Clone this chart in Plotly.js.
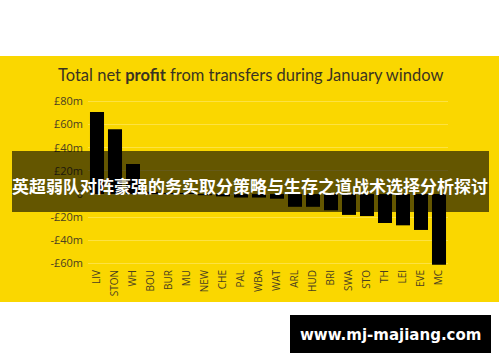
<!DOCTYPE html>
<html>
<head>
<meta charset="utf-8">
<script src="https://cdn.plot.ly/plotly-3.0.1.min.js"></script>
<style>html,body{margin:0;padding:0;background:#fff;}#chart{width:500px;height:362px;}</style>
</head>
<body>
<div id="chart"></div>
<script>
const clubs = ["LIV","STON","WH","BOU","BUR","MU","NEW","CHE","PAL","WBA","WAT","ARL","HUD","BRI","SWA","STO","TH","LEI","EVE","MC"];
const netProfit = [71, 56, 26, 2, 1, 1, -1, -2, -3, -3, -4, -11, -11, -14, -18, -19, -25, -27, -31, -61];
const yTickVals = [80, 60, 40, 20, 0, -20, -40, -60];
const yTickText = ["£80m","£60m","£40m","£20m","0","-£20m","-£40m","-£60m"];
const chartTitle = "Total net <b>profit</b> from transfers during January window";
const bannerText = "英超弱队对阵豪强的务实取分策略与生存之道战术选择分析探讨";
const watermark = "www.mj-majiang.com";

const W = 500, H = 362, mL = 88, mR = 52, mT = 98, mB = 95;
const pw = W - mL - mR, ph = H - mT - mB;
const px = x => (x - mL) / pw;
const py = y => (H - mB - y) / ph;

const shapes = [
  {type:'rect', xref:'paper', yref:'paper', layer:'below', x0:px(0), x1:px(499), y0:py(302), y1:py(56), fillcolor:'#fad700', line:{width:0}},
  {type:'rect', xref:'paper', yref:'paper', layer:'above', x0:px(12), x1:px(489), y0:py(212), y1:py(151), fillcolor:'rgba(0,0,0,0.6)', line:{width:0}},
  {type:'rect', xref:'paper', yref:'paper', layer:'above', x0:px(290), x1:px(491), y0:py(353), y1:py(315), fillcolor:'#000000', line:{width:0}}
];

const annotations = [
  {xref:'paper', yref:'paper', x:px(250), y:py(185), text:'<b>'+bannerText+'</b>', showarrow:false, xanchor:'center', yanchor:'middle',
   font:{family:'"Noto Sans CJK SC", sans-serif', size:17, color:'#ffffff'}},
  {xref:'paper', yref:'paper', x:px(390), y:py(335), text:'<b>'+watermark+'</b>', showarrow:false, xanchor:'center', yanchor:'middle',
   font:{family:'"DejaVu Sans", sans-serif', size:15, color:'#ffffff'}}
];

const trace = {type:'bar', x:clubs, y:netProfit, marker:{color:'#000000', line:{width:0}}, hoverinfo:'skip'};

const layout = {
  width:W, height:H,
  margin:{l:mL, r:mR, t:mT, b:mB, pad:0},
  paper_bgcolor:'#ffffff', plot_bgcolor:'rgba(0,0,0,0)',
  showlegend:false, bargap:0.22,
  title:{text:chartTitle, xref:'container', yref:'container', x:58/W, xanchor:'left', y:1-75/H, yanchor:'middle',
    font:{family:'Lato, sans-serif', size:16.5, color:'#3a3420'}},
  xaxis:{type:'category', tickangle:-90, showgrid:false, zeroline:false, showline:false, ticks:'',
    tickfont:{family:'"Open Sans", sans-serif', size:10, color:'#4a4020'}, fixedrange:true},
  yaxis:{range:[-63, 83], tickvals:yTickVals, ticktext:yTickText, showgrid:true, gridcolor:'rgba(255,235,120,0.55)', gridwidth:1,
    zeroline:false, showline:false, ticks:'', ticklabelstandoff:4,
    tickfont:{family:'"Open Sans", sans-serif', size:11, color:'#4a4020'}, fixedrange:true},
  shapes:shapes, annotations:annotations
};

Plotly.newPlot('chart', [trace], layout, {staticPlot:true, displayModeBar:false});
</script>
</body>
</html>
